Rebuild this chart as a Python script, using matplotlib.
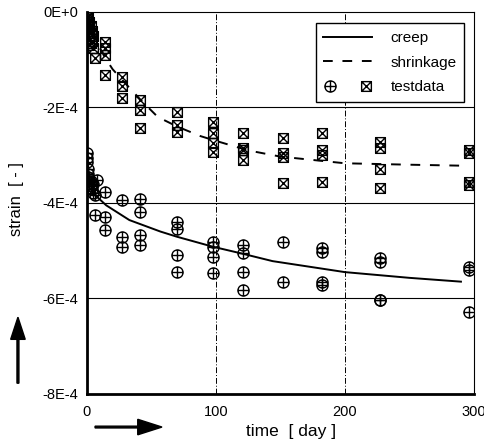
import numpy as np
import matplotlib
matplotlib.use("Agg")
import matplotlib.pyplot as plt
from matplotlib.path import Path
from matplotlib.legend_handler import HandlerTuple

plt.rcParams['font.family'] = ['Liberation Sans', 'DejaVu Sans']

# fitted curves (strain in 1E-4)
creep_fit_t = [0, 1, 3, 7, 15, 33, 57, 70, 98, 120, 144, 200, 250, 290]
creep_fit = [-3.0, -3.3, -3.6, -3.85, -4.05, -4.36, -4.6, -4.71, -4.92, -5.06, -5.22, -5.45, -5.57, -5.65]
shr_fit_t = [0, 3, 7, 14, 20, 30, 42, 55, 70, 88, 100, 125, 150, 200, 250, 290]
shr_fit = [0, -0.3, -0.6, -0.95, -1.2, -1.5, -1.85, -2.2, -2.4, -2.6, -2.7, -2.9, -3.03, -3.17, -3.2, -3.22]

# test data, grouped by day
creep_days = [0, 1, 2, 3, 4, 5, 6, 8, 14, 27, 41, 70, 98, 121, 152, 182, 227, 296]
creep_vals = [[-2.95, -3.05, -3.15], [-3.3, -3.4, -3.45], [-3.5, -3.6], [-3.55, -3.65],
              [-3.7], [-3.6, -3.8], [-3.83, -4.25], [-3.52], [-3.77, -4.29, -4.56],
              [-3.94, -4.71, -4.92], [-3.92, -4.19, -4.67, -4.88], [-4.4, -4.55, -5.09, -5.45],
              [-4.82, -4.92, -5.13, -5.47], [-4.88, -5.05, -5.45, -5.82], [-4.82, -5.65],
              [-4.94, -5.03, -5.65, -5.72], [-5.15, -5.24, -6.03, -6.03], [-5.34, -5.40, -6.28]]
shr_days = [0, 1, 2, 3, 4, 5, 6, 14, 27, 41, 70, 98, 121, 152, 182, 227, 296]
shr_vals = [[0, -0.1, -0.2, -0.3], [-0.1, -0.25, -0.4], [-0.2, -0.35, -0.55, -0.7],
            [-0.3, -0.45, -0.65], [-0.4, -0.6], [-0.5, -0.75], [-0.96],
            [-0.63, -0.75, -0.9, -1.32], [-1.36, -1.55, -1.8], [-1.84, -2.05, -2.43],
            [-2.09, -2.37, -2.51], [-2.3, -2.53, -2.74, -2.93], [-2.53, -2.85, -2.9, -3.1],
            [-2.64, -2.95, -3.04, -3.58], [-2.53, -2.89, -3.0, -3.56],
            [-2.72, -2.85, -3.3, -3.69], [-2.89, -2.95, -3.56, -3.62]]
yticks = [0, -2, -4, -6, -8]
ylabels = ['0E+0', '-2E-4', '-4E-4', '-6E-4', '-8E-4']
xticks = [0, 100, 200, 300]

# markers: circle with cross, box with cross
circ = Path.make_compound_path(Path.unit_circle(),
                               Path([[-1, 0], [1, 0]]), Path([[0, -1], [0, 1]]))
box = Path.make_compound_path(Path([[-1, -1], [1, -1], [1, 1], [-1, 1], [-1, -1]]),
                              Path([[-1, -1], [1, 1]]), Path([[-1, 1], [1, -1]]))

def flat(days, vals):
    t = [d for d, v in zip(days, vals) for _ in v]
    s = [x * 1e-4 for v in vals for x in v]
    return t, s

fig = plt.figure(figsize=(4.85, 4.43), dpi=100)
ax = fig.add_axes([0.179, 0.111, 0.798, 0.862])

ax.plot(creep_fit_t, np.array(creep_fit) * 1e-4, color='black', lw=1.4)
ax.plot(shr_fit_t, np.array(shr_fit) * 1e-4, color='black', lw=1.4, dashes=(5, 5))

ct, cs = flat(creep_days, creep_vals)
st, ss = flat(shr_days, shr_vals)
hc, = ax.plot(ct, cs, ls='none', marker=circ, ms=8, mfc='none', mec='black', mew=1.0)
hs, = ax.plot(st, ss, ls='none', marker=box, ms=7, mfc='none', mec='black', mew=1.0)

ax.set_xlim(0, 300)
ax.set_ylim(-8e-4, 0)
ax.set_xticks(xticks)
ax.set_yticks([y * 1e-4 for y in yticks])
ax.set_yticklabels(ylabels)
ax.tick_params(length=0, labelsize=10.5, pad=6)
ax.tick_params(axis='x', pad=8)
for y in yticks[1:4]:
    ax.axhline(y * 1e-4, color='black', lw=0.8)
for x in [100, 200]:
    ax.axvline(x, color='black', lw=0.7, dashes=(6, 2, 1, 2))
for s in ['left', 'bottom']:
    ax.spines[s].set_linewidth(2)
for s in ['top', 'right']:
    ax.spines[s].set_linewidth(0.8)

ax.legend([plt.Line2D([], [], color='black', lw=1.4),
           plt.Line2D([], [], color='black', lw=1.4, dashes=(5, 5)),
           (hc, hs)],
          ['creep', 'shrinkage', 'testdata'],
          handler_map={tuple: HandlerTuple(ndivide=None, pad=1.5)},
          loc='upper right', bbox_to_anchor=(0.995, 0.99), fancybox=False,
          edgecolor='black', framealpha=1, fontsize=11, handlelength=3.2,
          labelspacing=0.7, borderpad=0.5, handletextpad=1.2)

fig.text(0.035, 0.55, 'strain  [ - ]', rotation=90, ha='center', va='center', fontsize=12)
fig.text(0.6, 0.027, 'time  [ day ]', ha='center', va='center', fontsize=12.5)

# arrows
fig.add_artist(matplotlib.patches.FancyArrow(0.037, 0.135, 0, 0.149, width=0.004,
               head_width=0.03, head_length=0.05, color='black',
               length_includes_head=True, transform=fig.transFigure))
fig.add_artist(matplotlib.patches.FancyArrow(0.196, 0.036, 0.138, 0, width=0.004,
               head_width=0.035, head_length=0.05, color='black',
               length_includes_head=True, transform=fig.transFigure))

fig.savefig('out.png', dpi=100)
